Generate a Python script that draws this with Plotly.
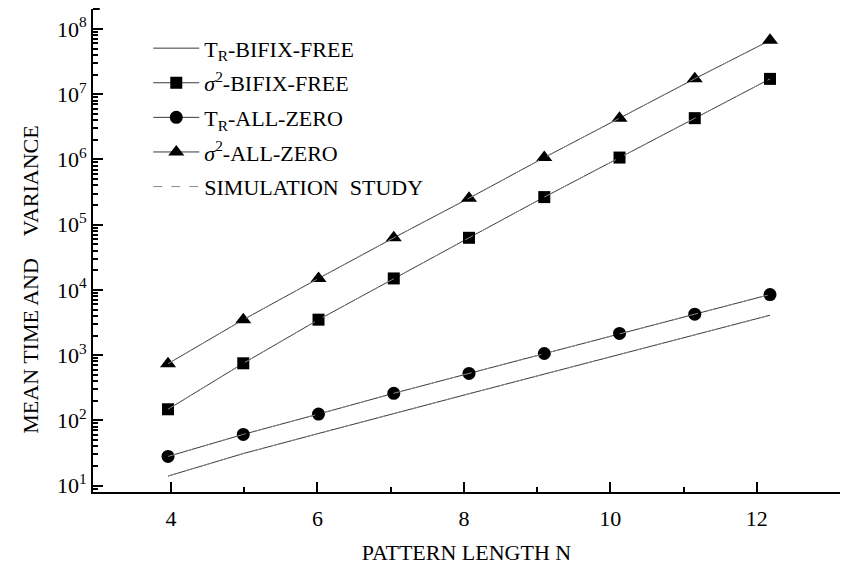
import plotly.graph_objects as go

# pattern length N
n_values = [4, 5, 6, 7, 8, 9, 10, 11, 12]

# mean waiting time and variance for the two pattern classes
tr_bifix_free = [14, 31, 63, 128, 256, 512, 1024, 2048, 4096]
var_bifix_free = [148, 750, 3500, 15000, 63000, 265000, 1070000, 4300000, 17200000]
tr_all_zero = [28, 61, 125, 260, 525, 1060, 2150, 4250, 8500]
var_all_zero = [740, 3500, 15000, 63000, 255000, 1070000, 4300000, 17300000, 67000000]

# axis ticks
x_major = [4, 6, 8, 10, 12]
x_minor = [5, 7, 9, 11]
y_exponents = [1, 2, 3, 4, 5, 6, 7, 8]
y_ticktext = [f"10<sup>{e}</sup>" for e in y_exponents]

FONT = "Liberation Serif, Times New Roman, serif"
LINE = "#3a3a3a"
SIM = "#8a8a8a"

fig = go.Figure()

series = [
    ("T<sub>R</sub>-BIFIX-FREE", tr_bifix_free, None, 12),
    ("<i>σ</i><sup>2</sup>-BIFIX-FREE", var_bifix_free, "square", 12),
    ("T<sub>R</sub>-ALL-ZERO", tr_all_zero, "circle", 13),
    ("<i>σ</i><sup>2</sup>-ALL-ZERO", var_all_zero, "triangle-up", 14),
]

for i, (name, vals, sym, size) in enumerate(series):
    fig.add_trace(go.Scatter(
        x=n_values, y=vals, name=name, xaxis="x2", yaxis="y",
        mode="lines" if sym is None else "lines+markers",
        line=dict(color=LINE, width=1),
        marker=dict(symbol=sym or "circle", size=size, color="black"),
        legendgroup=f"g{i}",
    ))

# simulation results follow the analytical curves
for i, (_, vals, _, _) in enumerate(series):
    fig.add_trace(go.Scatter(
        x=n_values, y=vals, name="SIMULATION&nbsp;&nbsp;STUDY", xaxis="x2", yaxis="y",
        mode="lines", line=dict(color=SIM, width=1, dash="dash"),
        showlegend=(i == 0), legendgroup="sim",
    ))

# keeps the labelled N axis registered with the subplot
fig.add_trace(go.Scatter(x=[None], y=[None], xaxis="x", yaxis="y",
                         showlegend=False, hoverinfo="skip"))

minor_y = [k * 10 ** d for d in range(0, 9) for k in range(2, 10)]

fig.update_layout(
    width=841, height=567,
    margin=dict(l=93, r=1, t=9, b=75),
    paper_bgcolor="white", plot_bgcolor="white",
    font=dict(family=FONT, color="black"),
    showlegend=True,
    legend=dict(
        x=0.074, y=0.962, xanchor="left", yanchor="top",
        bgcolor="rgba(0,0,0,0)", font=dict(family=FONT, size=22),
        tracegroupgap=3, itemsizing="trace", itemwidth=46,
    ),
    xaxis=dict(
        range=[2.935, 13.136], tickvals=x_major, ticktext=[str(v) for v in x_major],
        ticks="inside", ticklen=10, tickwidth=2, tickcolor="black",
        minor=dict(tickvals=x_minor, ticks="inside", ticklen=5, tickwidth=2, tickcolor="black"),
        showline=True, linecolor="black", linewidth=2, showgrid=False, zeroline=False,
        tickfont=dict(family=FONT, size=22), ticklabelstandoff=6,
        title=dict(text="PATTERN LENGTH N", font=dict(family=FONT, size=22), standoff=14),
    ),
    xaxis2=dict(
        range=[3.003, 12.93], overlaying="x", anchor="y", visible=False,
    ),
    yaxis=dict(
        type="log", range=[0.902, 8.307],
        tickvals=[10 ** e for e in y_exponents], ticktext=y_ticktext,
        ticks="inside", ticklen=10, tickwidth=2, tickcolor="black",
        minor=dict(tickvals=minor_y, ticks="inside", ticklen=5, tickwidth=1.5, tickcolor="black"),
        showline=True, linecolor="black", linewidth=2, showgrid=False, zeroline=False,
        tickfont=dict(family=FONT, size=22),
    ),
    annotations=[dict(
        text="MEAN TIME AND&nbsp;&nbsp;&nbsp;&nbsp;VARIANCE", textangle=-90,
        xref="paper", yref="paper", x=-0.084, y=0.44, xanchor="center", yanchor="middle",
        showarrow=False, font=dict(family=FONT, size=22),
    )],
    shapes=[dict(type="line", xref="paper", yref="paper", x0=0, x1=0.009, y0=1, y1=1,
                 line=dict(color="black", width=2))],
)

fig.write_html("out.html")
